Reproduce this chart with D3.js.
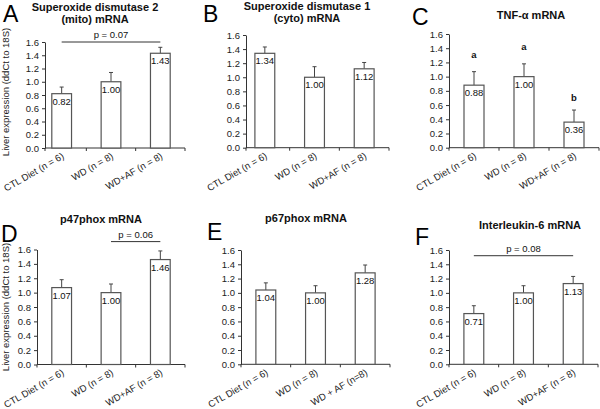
<!DOCTYPE html>
<html><head><meta charset="utf-8">
<script src="https://cdn.jsdelivr.net/npm/d3@7"></script>
<style>
html,body{margin:0;padding:0;background:#fff;}
svg{display:block;font-family:"Liberation Sans",Arial,sans-serif;}
</style></head>
<body>
<svg id="chart" width="600" height="409"></svg>
<script>
// ---------------- data ----------------
const panelLetters = ["A","B","C","D","E","F"];
const panelTitles = [
  ["Superoxide dismutase 2","(mito) mRNA"],
  ["Superoxide dismutase 1","(cyto) mRNA"],
  ["TNF-α mRNA"],
  ["p47phox mRNA"],
  ["p67phox mRNA"],
  ["Interleukin-6 mRNA"]
];
const categories = ["CTL Diet (n = 6)","WD (n = 8)","WD+AF (n = 8)"];
const categoriesE = ["CTL Diet (n = 6)","WD (n = 8)","WD + AF (n=8)"];
const yTicks = [0,0.2,0.4,0.6,0.8,1.0,1.2,1.4,1.6];
const yTitle = "Liver expression (ddCt to 18S)";

const meansA = [0.82,1.00,1.43], errA = [0.10,0.14,0.09];
const meansB = [1.34,1.00,1.12], errB = [0.09,0.15,0.09];
const meansC = [0.88,1.00,0.36], errC = [0.19,0.18,0.17];
const meansD = [1.07,1.00,1.46], errD = [0.11,0.12,0.12];
const meansE = [1.04,1.00,1.28], errE = [0.10,0.10,0.11];
const meansF = [0.71,1.00,1.13], errF = [0.11,0.10,0.10];

// significance brackets: [from index, to index, level, text]
const sigA = [0, 2, 1.60, "p = 0.07"];
const sigD = [1, 2, 1.71, "p = 0.06"];
const sigF = [0, 2, 1.52, "p = 0.08"];
// letters in panel C: [index, level, text]
const lettersC = [[0,1.31,"a"],[1,1.42,"a"],[2,0.71,"b"]];

// ---------------- layout ----------------
const layouts = [
  {x0:37,  ax:45,  x1:185, yTop:42,    y0:148,   tx:95,  ty:[11,23], lx:3,   ly:22,  ytitle:[9,92]},
  {x0:240, ax:246, x1:389, yTop:35,    y0:147.7, tx:307, ty:[10,22], lx:203, ly:22},
  {x0:449, ax:449, x1:599, yTop:34,    y0:147.7, tx:531, ty:[19],    lx:412, ly:25},
  {x0:37,  ax:37,  x1:185, yTop:249.5, y0:364.5, tx:101, ty:[223],   lx:1,   ly:242, ytitle:[9,307]},
  {x0:241, ax:241, x1:390, yTop:250,   y0:364.3, tx:306, ty:[222],   lx:207, ly:240},
  {x0:449, ax:449, x1:598, yTop:250,   y0:364.3, tx:530, ty:[229],   lx:415, ly:245}
];
const panelMeans = [meansA,meansB,meansC,meansD,meansE,meansF];
const panelErr = [errA,errB,errC,errD,errE,errF];
const panelCats = [categories,categories,categories,categories,categoriesE,categories];
const panelSig = [sigA,null,null,sigD,null,sigF];
const panelLettersAbove = [null,null,lettersC,null,null,null];

const svg = d3.select("#chart");
const fmt = d3.format(".2f");
const FS = 9.5;
const axisColor = "#333";

layouts.forEach((L,i) => {
  const g = svg.append("g");
  const cats = panelCats[i];
  const data = cats.map((c,j)=>({cat:c, m:panelMeans[i][j], e:panelErr[i][j]}));
  const x = d3.scaleBand().domain(cats).range([L.x0,L.x1]).paddingInner(0.6).paddingOuter(0.3);
  const y = d3.scaleLinear().domain([0,1.6]).range([L.y0,L.yTop]);

  // panel letter
  g.append("text").attr("x",L.lx).attr("y",L.ly).attr("font-size",23).attr("fill","#000").text(panelLetters[i]);
  // title
  panelTitles[i].forEach((t,k)=>{
    g.append("text").attr("x",L.tx).attr("y",L.ty[k]).attr("text-anchor","middle")
      .attr("font-size",11).attr("font-weight","bold").attr("fill","#111").text(t);
  });
  // y title
  if (L.ytitle) {
    g.append("text").attr("transform",`translate(${L.ytitle[0]},${L.ytitle[1]}) rotate(-90)`)
      .attr("text-anchor","middle").attr("font-size",FS).attr("fill","#222").text(yTitle);
  }
  // y axis
  const ya = g.append("g").attr("transform",`translate(${L.ax},0)`)
    .call(d3.axisLeft(y).tickValues(yTicks).tickFormat(d3.format(".1f")).tickSize(3).tickSizeOuter(0).tickPadding(3));
  ya.select(".domain").attr("stroke",axisColor);
  ya.selectAll(".tick line").attr("stroke",axisColor);
  ya.selectAll(".tick text").attr("font-size",FS).attr("fill","#222").attr("font-family","Liberation Sans, Arial, sans-serif");

  // x axis line + ticks at category boundaries
  const step = x.step();
  const xEnd = L.x0 + step*cats.length;
  g.append("line").attr("x1",L.ax).attr("x2",xEnd).attr("y1",L.y0).attr("y2",L.y0)
    .attr("stroke",axisColor);
  d3.range(1,cats.length+1).forEach(k=>{
    const bx = L.x0 + k*step;
    g.append("line").attr("x1",bx).attr("x2",bx).attr("y1",L.y0).attr("y2",L.y0+3).attr("stroke",axisColor);
  });
  g.append("line").attr("x1",L.ax).attr("x2",L.ax).attr("y1",L.y0).attr("y2",L.y0+3).attr("stroke",axisColor);
  // x labels
  data.forEach(d=>{
    const cx = x(d.cat)+x.bandwidth()/2;
    g.append("text").attr("transform",`translate(${cx+3},${L.y0+10}) rotate(-30)`)
      .attr("text-anchor","end").attr("font-size",FS).attr("fill","#222").text(d.cat);
  });

  // error bars
  data.forEach(d=>{
    const cx = x(d.cat)+x.bandwidth()/2;
    g.append("line").attr("x1",cx).attr("x2",cx).attr("y1",y(d.m)).attr("y2",y(d.m+d.e)).attr("stroke","#444");
    g.append("line").attr("x1",cx-2).attr("x2",cx+2).attr("y1",y(d.m+d.e)).attr("y2",y(d.m+d.e)).attr("stroke","#444");
  });
  // bars
  g.selectAll("rect.bar").data(data).enter().append("rect").attr("class","bar")
    .attr("x",d=>x(d.cat)).attr("width",x.bandwidth())
    .attr("y",d=>y(d.m)).attr("height",d=>L.y0-y(d.m))
    .attr("fill","#fff").attr("stroke","#555").attr("stroke-width",1.2);
  // value labels
  data.forEach(d=>{
    const cx = x(d.cat)+x.bandwidth()/2;
    g.append("text").attr("x",cx).attr("y",y(d.m)+11).attr("text-anchor","middle")
      .attr("font-size",FS).attr("fill","#111").text(fmt(d.m));
  });
  // significance line
  const s = panelSig[i];
  if (s) {
    const xa = x(cats[s[0]])+x.bandwidth()/2, xb = x(cats[s[1]])+x.bandwidth()/2;
    g.append("line").attr("x1",xa).attr("x2",xb).attr("y1",y(s[2])).attr("y2",y(s[2])).attr("stroke","#333");
    g.append("text").attr("x",(xa+xb)/2).attr("y",y(s[2])-4).attr("text-anchor","middle")
      .attr("font-size",FS).attr("fill","#111").text(s[3]);
  }
  const la = panelLettersAbove[i];
  if (la) {
    la.forEach(l=>{
      const cx = x(cats[l[0]])+x.bandwidth()/2;
      g.append("text").attr("x",cx).attr("y",y(l[1])).attr("dy","0.35em").attr("text-anchor","middle")
        .attr("font-size",FS).attr("font-weight","bold").attr("fill","#111").text(l[2]);
    });
  }
});
</script>
</body></html>
